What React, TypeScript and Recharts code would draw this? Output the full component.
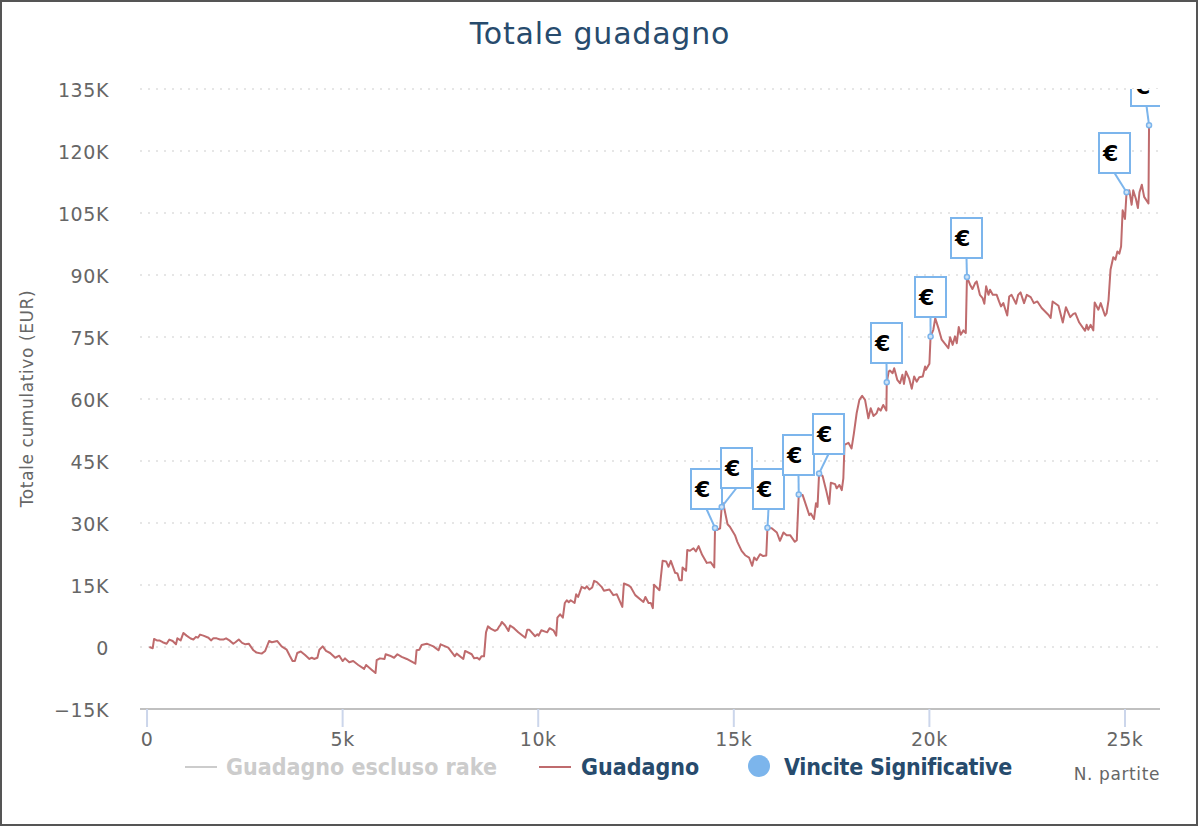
import React from 'react';
import { ComposedChart, Line, Scatter, XAxis, YAxis, CartesianGrid, Legend } from 'recharts';

const WIDTH = 1198;
const HEIGHT = 826;
// plot area edges, flags get clipped to it
const PLOT = { left: 140, top: 89, right: 1160, bottom: 709 };

const games = [
  60, 145, 180, 250, 315, 400, 500, 570, 655, 740,
  775, 860, 930, 1010, 1115, 1185, 1250, 1300, 1355, 1440,
  1570, 1635, 1695, 1780, 1865, 1950, 2020, 2105, 2205, 2260,
  2345, 2430, 2515, 2600, 2720, 2800, 2930, 3020, 3120, 3190,
  3330, 3440, 3570, 3655, 3720, 3780, 3840, 3930, 4040, 4150,
  4210, 4270, 4355, 4405, 4490, 4575, 4680, 4810, 4915, 5000,
  5060, 5170, 5270, 5400, 5550, 5600, 5740, 5840, 5870, 5955,
  6070, 6100, 6210, 6315, 6400, 6510, 6640, 6860, 6890, 6960,
  7020, 7150, 7320, 7450, 7505, 7700, 7870, 7915, 8085, 8130,
  8300, 8360, 8440, 8495, 8550, 8615, 8665, 8715, 8785, 8895,
  8955, 9005, 9030, 9070, 9150, 9240, 9280, 9380, 9490, 9620,
  9670, 9720, 9770, 9920, 9980, 10010, 10080, 10230, 10290, 10390,
  10460, 10490, 10560, 10630, 10680, 10730, 10780, 10830, 10930, 10970,
  11020, 11110, 11200, 11240, 11310, 11380, 11430, 11500, 11620, 11680,
  11820, 11920, 12010, 12150, 12190, 12300, 12360, 12480, 12690, 12740,
  12820, 12880, 12930, 12960, 13100, 13180, 13270, 13330, 13390, 13500,
  13560, 13610, 13670, 13690, 13780, 13810, 13880, 13970, 14030, 14100,
  14190, 14310, 14410, 14500, 14520, 14560, 14650, 14690, 14730, 14800,
  14840, 14900, 15030, 15090, 15200, 15290, 15390, 15470, 15520, 15580,
  15670, 15750, 15830, 15860, 15970, 16100, 16180, 16270, 16350, 16440,
  16560, 16610, 16660, 16760, 16860, 16930, 16970, 17050, 17100, 17140,
  17180, 17270, 17360, 17440, 17480, 17590, 17630, 17700, 17760, 17800,
  17830, 17930, 18010, 18070, 18140, 18210, 18280, 18355, 18440, 18500,
  18570, 18650, 18695, 18755, 18820, 18900, 18910, 18960, 18990, 19060,
  19100, 19180, 19250, 19310, 19350, 19400, 19480, 19550, 19610, 19675,
  19740, 19830, 19890, 19910, 20000, 20030, 20100, 20150, 20230, 20315,
  20400, 20485, 20530, 20595, 20655, 20700, 20750, 20800, 20870, 20930,
  20960, 21040, 21100, 21170, 21210, 21290, 21360, 21405, 21450, 21510,
  21550, 21620, 21720, 21780, 21830, 21890, 21990, 22040, 22100, 22215,
  22270, 22330, 22420, 22490, 22590, 22670, 22760, 22870, 23040, 23100,
  23150, 23300, 23410, 23490, 23600, 23680, 23730, 23830, 23980, 24020,
  24060, 24120, 24190, 24225, 24320, 24380, 24490, 24530, 24580, 24630,
  24700, 24755, 24805, 24855, 24900, 24940, 25000, 25040, 25110, 25170,
  25210, 25280, 25330, 25370, 25430, 25490, 25600, 25615,
];

const gains = [
  0, -300, 1950, 1600, 1600, 1150, 800, 1800, 1450, 650,
  2100, 1600, 3400, 2750, 2050, 1800, 2450, 2250, 3000, 2750,
  2250, 1600, 2100, 2100, 1800, 1800, 2100, 1600, 800, 1150,
  1800, 1000, 650, 800, -800, -1350, -1600, -950, 1450, 1150,
  1450, 150, -650, -2250, -3400, -3400, -1450, -1100, -1950, -2900,
  -2600, -2900, -2600, -650, 150, -950, -1450, -2600, -2100, -3400,
  -2750, -3700, -3400, -4350, -5300, -4350, -5500, -6300, -3200, -2750,
  -2900, -1750, -2100, -2600, -1750, -2400, -2900, -4050, -800, -650,
  500, 800, 150, -800, 650, -150, -2250, -1600, -2900, -950,
  -1750, -2750, -2600, -3050, -2250, -2250, 3550, 5000, 4450, 3900,
  4200, 5000, 5250, 6050, 5250, 3900, 5200, 4550, 3550, 2600,
  2250, 4200, 4200, 2600, 3100, 2750, 4050, 3550, 4550, 4050,
  2750, 7100, 7900, 7100, 10650, 11300, 10850, 11300, 10650, 12750,
  12100, 14550, 14150, 14700, 13900, 14400, 16000, 15700, 14550, 13600,
  13900, 12550, 12750, 9700, 15350, 14950, 14550, 12550, 10900, 12100,
  10650, 10650, 9400, 15050, 13750, 20850, 20700, 19400, 20850, 17950,
  17800, 16150, 16150, 19250, 18450, 23450, 23300, 23900, 23100, 24400,
  22300, 20350, 20500, 19250, 28800, 28300, 28700, 33900, 34750, 31500,
  29700, 29100, 27050, 25450, 23250, 22200, 21650, 19650, 21650, 21000,
  22450, 22000, 22150, 28850, 28750, 27700, 25700, 27700, 27050, 27050,
  25450, 25850, 36900, 36750, 33900, 31900, 32300, 30950, 34750, 33900,
  42000, 41350, 37950, 34600, 39750, 39400, 38400, 39200, 37950, 40800,
  48900, 49400, 48050, 51700, 56550, 59800, 60750, 59800, 55350, 57750,
  55900, 56550, 57750, 57200, 58550, 57200, 64050, 66650, 66900, 66250,
  67450, 64600, 63800, 65850, 63650, 66650, 65000, 62500, 65450, 64200,
  65250, 65450, 67850, 67050, 68500, 75150, 76750, 79550, 77150, 74350,
  73350, 72300, 74950, 73100, 75150, 73500, 77400, 75550, 76600, 75950,
  89500, 87650, 86600, 88050, 88450, 85200, 84400, 83050, 87250, 85200,
  86450, 85200, 85200, 83600, 82400, 83200, 80200, 84800, 85200, 83050,
  85200, 85800, 83200, 85200, 84650, 83200, 83600, 82000, 80400, 79600,
  83600, 82550, 78500, 82200, 79800, 80600, 80750, 78500, 76500, 77950,
  76750, 77950, 76600, 83350, 81600, 83200, 80150, 80750, 84000, 91250,
  94300, 93700, 95700, 95150, 96900, 105650, 103550, 110000, 110500, 107000,
  110500, 108400, 106200, 110000, 111850, 108900, 107300, 126250,
];

// significant wins, flagged on the chart
const winGames = [14520, 14690, 15860, 16660, 17180, 18910, 20030, 20960, 25040, 25615];
const winGains = [28800, 33900, 28850, 36900, 42000, 64050, 75150, 89500, 110000, 126250];
// flag box left edge relative to its point, keeps the flags from overlapping
const flagShifts = [-24, -1, -14, -16, -6, -16, -16, -16, -28, -18];

const yTicks = [-15000, 0, 15000, 30000, 45000, 60000, 75000, 90000, 105000, 120000, 135000];
const xTicks = [0, 5000, 10000, 15000, 20000, 25000];

const rows = games.map((g, i) => ({ games: g, gain: gains[i] }));
const wins = winGames.map((g, i) => ({ games: g, gain: winGains[i] }));

const FONT = '"DejaVu Sans", sans-serif';
const BLUE = '#7cb5ec';
const LINE = '#bf6b6d';
const NAVY = '#274b6d';

const yFormat = (v: number) => (v === 0 ? '0' : `${v < 0 ? '\u2212' : ''}${Math.abs(v) / 1000}K`);
const xFormat = (v: number) => (v === 0 ? '0' : `${v / 1000}k`);

const FlagShape = (props: any) => {
  const { cx, cy, payload } = props;
  const shift = flagShifts[winGames.indexOf(payload.games)];
  const id = `flag-clip-${payload.games}`;
  const boxX = Math.round(cx + shift);
  const boxY = Math.round(cy - 59);
  return (
    <g clipPath={`url(#${id})`}>
      <clipPath id={id}>
        <rect x={PLOT.left} y={PLOT.top - 2} width={PLOT.right - PLOT.left} height={PLOT.bottom - PLOT.top} />
      </clipPath>
      <path d={`M${boxX + 15.5} ${boxY + 40}L${cx} ${cy}`} stroke={BLUE} strokeWidth={2} fill="none" />
      <rect x={boxX} y={boxY} width={31} height={40} fill="#fff" stroke={BLUE} strokeWidth={2} />
      <text x={boxX + 4} y={boxY + 28} fontFamily={FONT} fontWeight="bold" fontSize={22} fill="#000">€</text>
      <circle cx={cx} cy={cy} r={2.5} fill="#cfe3f7" stroke={BLUE} strokeWidth={1.5} />
    </g>
  );
};

const LegendRow = () => {
  const label = (x: number, text: string, color: string, spacing = 0) => (
    <span style={{ position: 'absolute', left: x, top: 752, fontFamily: '"DejaVu Sans Condensed", "DejaVu Sans", sans-serif', fontWeight: 'bold', fontSize: 23, letterSpacing: spacing, color, whiteSpace: 'nowrap', lineHeight: '30px' }}>{text}</span>
  );
  const swatch = (x: number, color: string) => (
    <span style={{ position: 'absolute', left: x, top: 766, width: 32, height: 2, background: color }} />
  );
  return (
    <div style={{ position: 'relative', width: 0, height: 0 }}>
      {swatch(185, '#cccccc')}
      {label(226, 'Guadagno escluso rake', '#cccccc')}
      {swatch(539, LINE)}
      {label(581, 'Guadagno', NAVY)}
      <span style={{ position: 'absolute', left: 748, top: 755, width: 22, height: 22, borderRadius: 11, background: BLUE }} />
      {label(784, 'Vincite Significative', NAVY, -0.25)}
    </div>
  );
};

export default function App() {
  return (
    <div style={{ position: 'absolute', left: 0, top: 0, width: WIDTH, height: HEIGHT, boxSizing: 'border-box', border: '2px solid #555', background: '#fff' }}>
      <div style={{ position: 'absolute', left: -2, top: -2 }}>
        <ComposedChart
          width={WIDTH}
          height={HEIGHT}
          data={rows}
          margin={{ top: PLOT.top, right: WIDTH - PLOT.right, bottom: HEIGHT - PLOT.bottom - 40, left: PLOT.left - 100 }}
        >
          <text x={600} y={44} textAnchor="middle" fontFamily={FONT} fontSize={30} letterSpacing={0.8} fill={NAVY}>Totale guadagno</text>
          <text transform="translate(33 398.5) rotate(-90)" textAnchor="middle" fontFamily={FONT} fontSize={17} letterSpacing={0.6} fill="#666">Totale cumulativo (EUR)</text>
          <text x={1160} y={780} textAnchor="end" fontFamily={FONT} fontSize={17} letterSpacing={0.6} fill="#666">N. partite</text>
          <CartesianGrid vertical={false} stroke="#e6e6e6" strokeWidth={2} strokeDasharray="2 6" />
          <XAxis
            dataKey="games"
            type="number"
            height={40}
            domain={[-180, 25895]}
            allowDataOverflow
            ticks={xTicks}
            interval={0}
            tickFormatter={xFormat}
            tick={{ fontFamily: FONT, fontSize: 19, letterSpacing: 0.6, fill: '#666' }}
            tickSize={18}
            tickMargin={6}
            tickLine={{ stroke: '#ccd6eb', strokeWidth: 2 }}
            axisLine={{ stroke: '#c0c0c0', strokeWidth: 2 }}
          />
          <YAxis
            dataKey="gain"
            type="number"
            width={100}
            domain={[-15000, 135000]}
            allowDataOverflow
            ticks={yTicks}
            interval={0}
            tickFormatter={yFormat}
            tick={{ fontFamily: FONT, fontSize: 19, letterSpacing: 0.6, fill: '#666', dy: 1 }}
            tickSize={0}
            tickMargin={31}
            tickLine={false}
            axisLine={false}
          />
          <Line dataKey="gain" stroke={LINE} strokeWidth={2} strokeLinejoin="round" dot={false} activeDot={false} isAnimationActive={false} />
          <Scatter data={wins} dataKey="gain" fill={BLUE} shape={FlagShape} isAnimationActive={false} />
          <Legend content={LegendRow} wrapperStyle={{ position: 'absolute', left: 0, top: 0, width: 0, height: 0 }} />
        </ComposedChart>
      </div>
    </div>
  );
}
